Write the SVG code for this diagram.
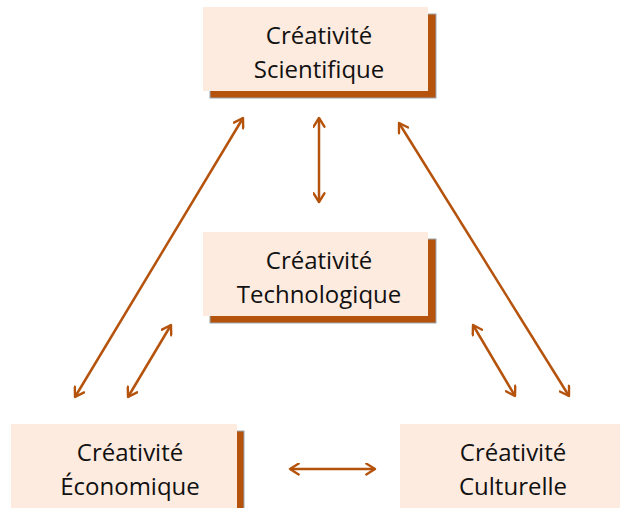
<svg xmlns="http://www.w3.org/2000/svg" width="620" height="508" viewBox="0 0 620 508">
  <defs>
    <marker id="chev" viewBox="0 0 12 12" refX="10" refY="6" markerWidth="13" markerHeight="13" markerUnits="userSpaceOnUse" orient="auto-start-reverse">
      <path d="M2,1 L10,6 L2,11" fill="none" stroke="#b5520b" stroke-width="2.2" stroke-linecap="round" stroke-linejoin="round"/>
    </marker>
  </defs>
  <style>
    .shadow { fill: #b5520b; stroke: #9aa7b3; stroke-width: 1; }
    .box { fill: #feebdf; }
    .label { font-family: "Open Sans", "Noto Sans", sans-serif; font-size: 24px; fill: #111111; text-anchor: middle; }
    .link { stroke: #b5520b; stroke-width: 2.5; fill: none; marker-start: url(#chev); marker-end: url(#chev); }
  </style>
  <rect width="620" height="508" fill="#ffffff"/>

  <g id="scientifique">
    <rect class="shadow" x="210" y="14" width="226" height="84"/>
    <rect class="box" x="203" y="7" width="225" height="84"/>
    <text class="label" x="319" y="44">Créativité</text>
    <text class="label" x="319" y="78">Scientifique</text>
  </g>

  <g id="technologique">
    <rect class="shadow" x="210" y="239" width="226" height="84"/>
    <rect class="box" x="203" y="232" width="225" height="84"/>
    <text class="label" x="319" y="269">Créativité</text>
    <text class="label" x="319" y="303">Technologique</text>
  </g>

  <g id="economique">
    <rect class="shadow" x="18" y="431" width="226" height="84"/>
    <rect class="box" x="11" y="424" width="226" height="84"/>
    <text class="label" x="130" y="461">Créativité</text>
    <text class="label" x="130" y="495">Économique</text>
  </g>

  <g id="culturelle">
    <rect class="shadow" x="407" y="431" width="226" height="84"/>
    <rect class="box" x="400" y="424" width="226" height="84"/>
    <text class="label" x="513" y="461">Créativité</text>
    <text class="label" x="513" y="495">Culturelle</text>
  </g>

  <g id="connectors">
    <line class="link" x1="319" y1="118" x2="319" y2="202"/>
    <line class="link" x1="243" y1="118" x2="75" y2="397"/>
    <line class="link" x1="171" y1="325" x2="128" y2="397"/>
    <line class="link" x1="399" y1="123" x2="569" y2="396"/>
    <line class="link" x1="473" y1="325" x2="515" y2="396"/>
    <line class="link" x1="290" y1="469" x2="375" y2="469"/>
  </g>
</svg>
